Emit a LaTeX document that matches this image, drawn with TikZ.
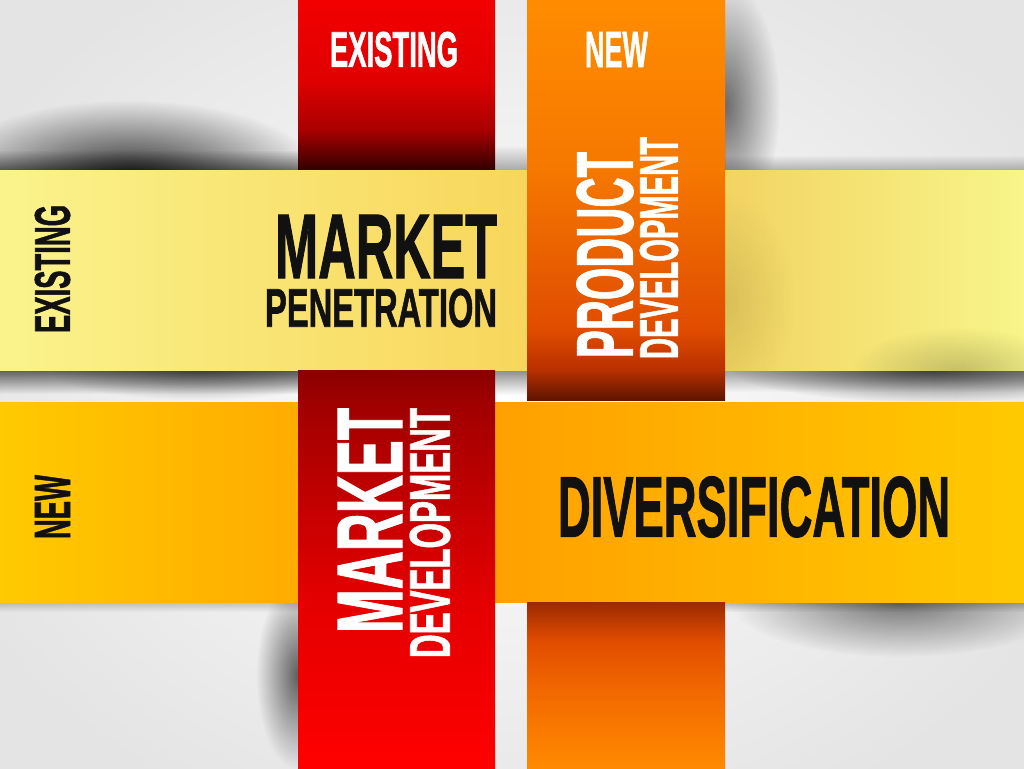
\documentclass[tikz,border=0pt]{standalone}
\usepackage{fontspec}
\setmainfont{Liberation Sans}[BoldFeatures={FakeBold=1.5}]
\usepackage{graphicx}
\usetikzlibrary{fadings}
\tikzfading[name=softspot, inner color=transparent!0, outer color=transparent!100]
\definecolor{bgc}{HTML}{E4E4E4}
\definecolor{txtdark}{HTML}{111111}
\definecolor{o0}{HTML}{FF8C00}
\definecolor{o1}{HTML}{F57800}
\definecolor{o2}{HTML}{E04C00}
\definecolor{o3}{HTML}{B83000}
\definecolor{o4}{HTML}{5E1400}
\definecolor{p0}{HTML}{FF8A00}
\definecolor{p1}{HTML}{F26800}
\definecolor{p2}{HTML}{E04C00}
\definecolor{p3}{HTML}{9A2A00}
\definecolor{ra}{HTML}{F20000}
\definecolor{rb}{HTML}{E00000}
\definecolor{rc}{HTML}{A80000}
\definecolor{rd}{HTML}{400000}
\definecolor{re}{HTML}{250000}
\definecolor{s0}{HTML}{FF0000}
\definecolor{s1}{HTML}{E40000}
\definecolor{s2}{HTML}{A00000}
\definecolor{s3}{HTML}{880000}
\pgfdeclareverticalshading{orangetop}{100bp}{color(0bp)=(o4); color(25bp)=(o4); color(28.75bp)=(o3); color(33.75bp)=(o2); color(53.75bp)=(o1); color(75bp)=(o0); color(100bp)=(o0)}
\pgfdeclareverticalshading{orangebot}{100bp}{color(0bp)=(p0); color(25bp)=(p0); color(48.5bp)=(p1); color(63.5bp)=(p2); color(75bp)=(p3); color(100bp)=(p3)}
\pgfdeclareverticalshading{redtop}{100bp}{color(0bp)=(re); color(25bp)=(re); color(27bp)=(rd); color(37.2bp)=(rc); color(51.7bp)=(rb); color(75bp)=(ra); color(100bp)=(ra)}
\pgfdeclareverticalshading{redbot}{100bp}{color(0bp)=(s0); color(25bp)=(s0); color(46.1bp)=(s1); color(71bp)=(s2); color(75bp)=(s3); color(100bp)=(s3)}
\newcommand{\fitt}[3]{\resizebox{#1pt}{#2pt}{\bfseries #3}}
\newcommand{\blob}[5]{\begin{scope}\clip #1;\fill[black,fill opacity=#2,path fading=softspot] (#3) ellipse [x radius=#4,y radius=#5];\end{scope}}
\begin{document}
\begin{tikzpicture}[x=1pt,y=-1pt,
  lbl/.style={inner sep=0pt,outer sep=0pt,anchor=center}]
\useasboundingbox (0,0) rectangle (1024,768);
% background
\shade[inner color=white,outer color=bgc] (-100,-100) rectangle (1124,868);
% shadows on background
\blob{(0,0) rectangle (298,170)}{0.8}{130,175}{190}{75}
\fill[black,fill opacity=0.5,path fading=north] (0,150) rectangle (298,170);
\fill[black,fill opacity=0.3,path fading=north] (495,145) rectangle (527,170);
\fill[black,fill opacity=0.25,path fading=north] (725,155) rectangle (1024,170);
\blob{(725,0) rectangle (1024,170)}{0.55}{725,105}{55}{125}
\fill[black,fill opacity=0.6,path fading=south] (0,370) rectangle (298,394);
\blob{(0,370) rectangle (298,402)}{0.4}{200,370}{150}{30}
\fill[black,fill opacity=0.45,path fading=south] (495,370) rectangle (527,395);
\fill[black,fill opacity=0.35,path fading=south] (725,370) rectangle (1024,392);
\blob{(725,370) rectangle (1024,402)}{0.6}{930,370}{200}{32}
\blob{(725,602) rectangle (1024,768)}{0.5}{900,602}{170}{55}
\fill[black,fill opacity=0.25,path fading=south] (725,602) rectangle (1024,612);
\blob{(0,602) rectangle (298,768)}{0.6}{298,675}{42}{95}
\fill[black,fill opacity=0.2,path fading=south] (0,602) rectangle (298,612);
% vertical bands (parts below horizontals)
\shade[shading=redtop] (298,0) rectangle (495,172);
\shade[shading=orangetop] (527,0) rectangle (725,172);
% horizontal bands
\shade[left color={rgb,255:red,250;green,243;blue,140},right color={rgb,255:red,248;green,214;blue,92}] (0,170) rectangle (527,370);
\shade[left color={rgb,255:red,242;green,212;blue,98},right color={rgb,255:red,248;green,245;blue,138}] (725,170) rectangle (1024,370);
\blob{(725,170) rectangle (1024,370)}{0.1}{725,300}{70}{110}
\blob{(725,170) rectangle (1024,370)}{0.2}{960,372}{110}{45}
\shade[left color={rgb,255:red,255;green,202;blue,0},right color={rgb,255:red,255;green,172;blue,0}] (0,402) rectangle (298,602);
\shade[left color={rgb,255:red,255;green,160;blue,0},right color={rgb,255:red,255;green,202;blue,0}] (495,402) rectangle (1024,602);
% vertical bands (parts on top)
\shade[shading=orangetop] (527,0) rectangle (725,400);
\shade[shading=redbot] (298,370) rectangle (495,768);
\shade[shading=orangebot] (527,602) rectangle (725,768);
% labels
\node[lbl,text=white] (topexist) at (394,49.5) {\fitt{128}{35}{EXISTING}};
\node[lbl,text=white] (topnew) at (616.5,49.5) {\fitt{63}{35}{NEW}};
\node[lbl,text=txtdark,rotate=90] (leftexist) at (52.5,269) {\fitt{128}{35}{EXISTING}};
\node[lbl,text=txtdark,rotate=90] (leftnew) at (52.5,507) {\fitt{64}{35}{NEW}};
\node[lbl,text=txtdark] (mp1) at (386,246.5) {\fitt{222}{63}{MARKET}};
\node[lbl,text=txtdark] (mp2) at (381,308) {\fitt{232}{38}{PENETRATION}};
\node[lbl,text=white,rotate=90] (pd1) at (605,255) {\fitt{206}{56}{PRODUCT}};
\node[lbl,text=white,rotate=90] (pd2) at (659,248) {\fitt{222}{38}{DEVELOPMENT}};
\node[lbl,text=white,rotate=90] (md1) at (370,520.5) {\fitt{225}{64}{MARKET}};
\node[lbl,text=white,rotate=90] (md2) at (430,533) {\fitt{250}{40}{DEVELOPMENT}};
\node[lbl,text=txtdark] (div) at (754,507) {\fitt{392}{60}{DIVERSIFICATION}};
\end{tikzpicture}
\end{document}
